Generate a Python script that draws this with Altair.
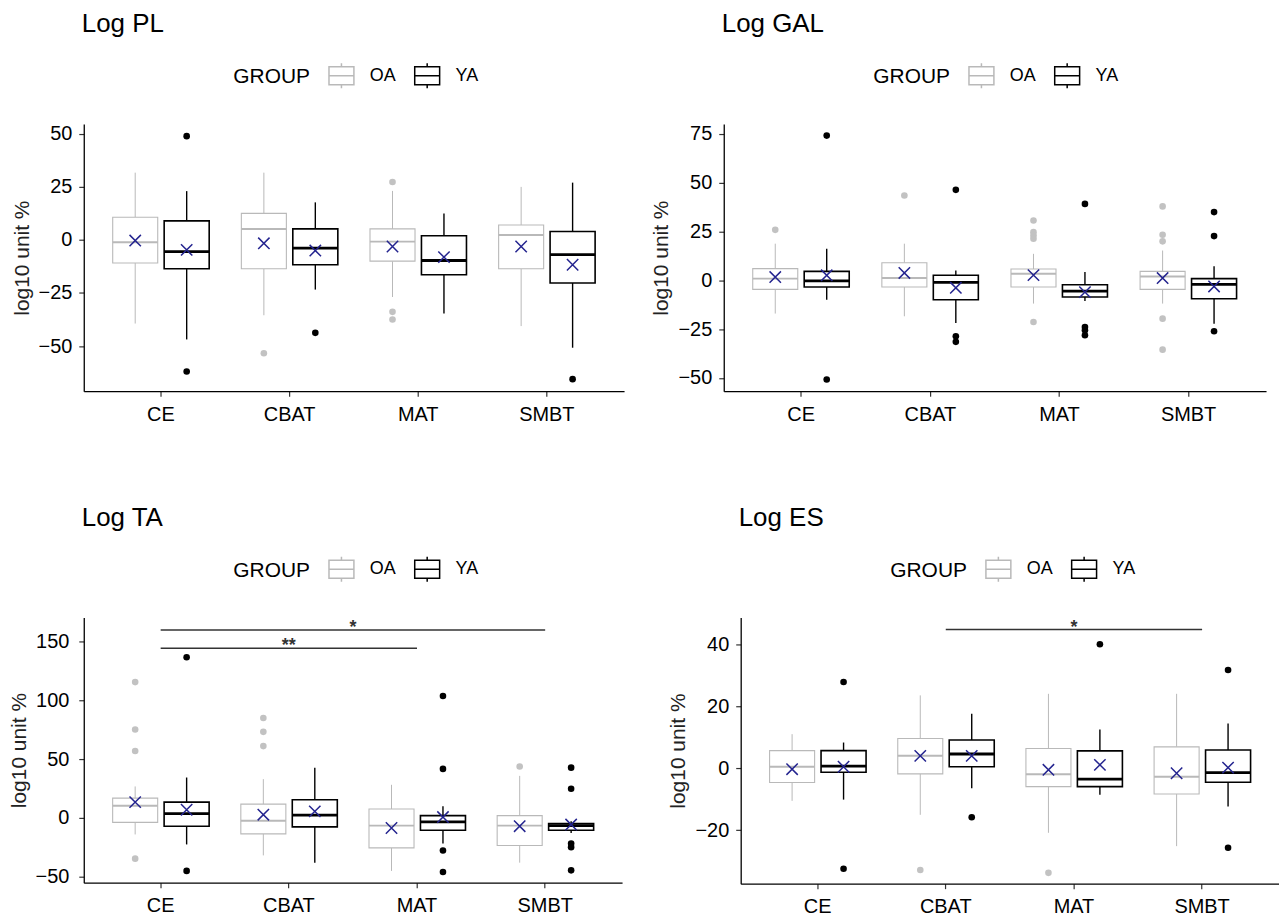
import altair as alt
import pandas as pd

FONT = "Liberation Sans"
CATS = ["CE", "CBAT", "MAT", "SMBT"]
GROUPS = ["OA", "YA"]
BOX_COLORS = ["#b9b9b9", "#000000"]
PT_COLORS = ["#c2c2c2", "#000000"]
MEAN_COLOR = "#24248f"

# ---------------- Log PL ----------------
PL_OA_LO = [-39.4, -35.5, -26.9, -40.6]
PL_OA_Q1 = [-10.9, -13.6, -10.0, -13.6]
PL_OA_MED = [-1.1, 5.2, -0.8, 2.3]
PL_OA_Q3 = [10.7, 12.5, 5.2, 7.0]
PL_OA_HI = [31.7, 31.7, 23.1, 25.0]
PL_OA_MEAN = [-0.3, -1.6, -3.1, -3.1]
PL_OA_OUT = [[], [-53.4], [27.3, -33.9, -37.5], []]
PL_YA_LO = [-46.9, -23.4, -34.7, -50.8]
PL_YA_Q1 = [-13.6, -11.7, -16.4, -20.3]
PL_YA_MED = [-5.5, -3.9, -9.7, -6.9]
PL_YA_Q3 = [9.0, 5.2, 2.0, 4.0]
PL_YA_HI = [23.0, 17.7, 12.5, 27.0]
PL_YA_MEAN = [-4.7, -5.0, -8.1, -11.7]
PL_YA_OUT = [[48.9, -62.0], [-43.8], [], [-65.6]]

# ---------------- Log GAL ----------------
GAL_OA_LO = [-17.0, -18.4, -11.9, -11.9]
GAL_OA_Q1 = [-4.6, -3.4, -3.4, -4.6]
GAL_OA_MED = [0.9, 1.2, 3.4, 2.0]
GAL_OA_Q3 = [6.0, 9.0, 5.8, 4.6]
GAL_OA_HI = [18.8, 18.8, 13.6, 15.3]
GAL_OA_MEAN = [1.7, 3.8, 2.7, 1.2]
GAL_OA_OUT = [[25.9], [43.5], [30.7, 24.7, 23.0, 21.3, -21.3], [37.9, 23.4, 20.0, -19.6, -35.5]]
GAL_YA_LO = [-9.9, -21.8, -10.6, -22.2]
GAL_YA_Q1 = [-3.4, -9.9, -8.5, -9.4]
GAL_YA_MED = [-0.3, -1.0, -5.5, -2.0]
GAL_YA_Q3 = [4.6, 2.6, -2.2, 0.9]
GAL_YA_HI = [16.2, 5.1, 4.3, 7.3]
GAL_YA_MEAN = [2.6, -3.8, -6.0, -3.1]
GAL_YA_OUT = [[74.2, -50.8], [46.4, -28.6, -31.5], [39.2, -23.9, -25.6, -28.1], [35.0, 22.7, -26.1]]

# ---------------- Log TA ----------------
TA_OA_LO = [-14.0, -31.8, -45.0, -38.0]
TA_OA_Q1 = [-3.7, -13.5, -25.4, -23.4]
TA_OA_MED = [10.4, -2.3, -6.5, -6.5]
TA_OA_Q3 = [16.9, 11.8, 7.6, 2.0]
TA_OA_HI = [26.8, 33.0, 28.2, 35.8]
TA_OA_MEAN = [13.5, 2.8, -8.5, -7.0]
TA_OA_OUT = [[115.5, 75.2, 56.9, -34.6], [85.0, 73.2, 61.1], [], [43.7]]
TA_YA_LO = [-22.5, -38.0, -21.7, -12.7]
TA_YA_Q1 = [-7.0, -7.6, -10.4, -10.4]
TA_YA_MED = [3.7, 2.5, -3.4, -6.5]
TA_YA_Q3 = [13.5, 15.5, 2.0, -4.8]
TA_YA_HI = [34.4, 42.8, 9.9, -2.8]
TA_YA_MEAN = [7.0, 5.6, 0.8, -5.6]
TA_YA_OUT = [[136.6, -45.0], [], [103.7, 41.7, -27.6, -45.9], [42.8, 24.8, -21.7, -24.8, -44.5]]
TA_BRACKETS = [("CE", "SMBT", 159.7, "*"), ("CE", "MAT", 144.3, "**")]

# ---------------- Log ES ----------------
ES_OA_LO = [-10.5, -15.0, -20.8, -25.1]
ES_OA_Q1 = [-4.6, -1.8, -5.9, -8.3]
ES_OA_MED = [0.5, 4.0, -1.9, -2.7]
ES_OA_Q3 = [5.7, 9.6, 6.4, 6.9]
ES_OA_HI = [11.0, 23.5, 24.0, 24.0]
ES_OA_MEAN = [-0.3, 4.0, -0.5, -1.6]
ES_OA_OUT = [[], [-32.8], [-33.7], []]
ES_YA_LO = [-10.1, -6.4, -8.5, -12.3]
ES_YA_Q1 = [-1.3, 0.5, -5.9, -4.5]
ES_YA_MED = [0.7, 4.6, -3.5, -1.4]
ES_YA_Q3 = [5.7, 9.1, 5.6, 5.9]
ES_YA_HI = [8.3, 17.6, 12.5, 14.4]
ES_YA_MEAN = [0.5, 4.0, 1.1, 0.2]
ES_YA_OUT = [[27.8, -32.4], [-15.8], [40.0], [31.7, -25.6]]
ES_BRACKETS = [("CBAT", "SMBT", 44.7, "*")]

BOX_PATH = "M-1,-0.72L1,-0.72L1,0.72L-1,0.72Z M-1,0L1,0 M0,-0.72L0,-1 M0,0.72L0,1"
X_PATH = "M-1,-1L1,1M-1,1L1,-1"


def make_panel(title, oa, ya, oa_out, ya_out, ydomain, yticks, width, height,
               brackets=None, ylabpad=7):
    keys = ["lo", "q1", "med", "q3", "hi", "mean"]
    rows = []
    for g, st in (("OA", oa), ("YA", ya)):
        for i, c in enumerate(CATS):
            r = {"cat": c, "group": g}
            for k, arr in zip(keys, st):
                r[k] = arr[i]
            rows.append(r)
    summ = pd.DataFrame(rows)
    orows = []
    for g, outs in (("OA", oa_out), ("YA", ya_out)):
        for i, c in enumerate(CATS):
            for v in outs[i]:
                orows.append({"cat": c, "group": g, "val": v})
    odf = pd.DataFrame(orows)

    xscale = alt.Scale(domain=CATS, paddingInner=0, paddingOuter=0.1)
    xaxis = alt.Axis(title=None, labelAngle=0, labelPadding=8, tickSize=5)
    X = alt.X("cat:N", scale=xscale, sort=CATS, axis=xaxis)
    XO = alt.XOffset("group:N", sort=GROUPS,
                     scale=alt.Scale(domain=GROUPS, paddingInner=0.125, paddingOuter=0.3125))
    yscale = alt.Scale(domain=ydomain, nice=False, zero=False)
    yaxis = alt.Axis(values=yticks, title="log10 unit %", labelPadding=ylabpad,
                     tickSize=5, titlePadding=6)

    def Y(f):
        return alt.Y(f, type="quantitative", scale=yscale, axis=yaxis)

    legend = alt.Legend(orient="none", legendX=150, legendY=-62, direction="horizontal",
                        title="GROUP", titleOrient="left", symbolType=BOX_PATH,
                        symbolSize=625, symbolStrokeWidth=1.5, symbolFillColor="white",
                        labelFontSize=18, titleFontSize=21, titleFontWeight="normal",
                        labelOffset=15, columnPadding=15, titlePadding=17,
                        titleColor="black", labelColor="black", titleBaseline="middle",
                        labelFont=FONT, titleFont=FONT)
    S = alt.Stroke("group:N", scale=alt.Scale(domain=GROUPS, range=BOX_COLORS), legend=legend)
    F = alt.Fill("group:N", scale=alt.Scale(domain=GROUPS, range=["white", "white"]), legend=legend)

    def SW(lo_w, hi_w):
        return alt.StrokeWidth("group:N", scale=alt.Scale(domain=GROUPS, range=[lo_w, hi_w]),
                               legend=None)

    base = alt.Chart(summ)
    w_lo = base.mark_rule().encode(x=X, xOffset=XO, y=Y("lo"), y2="q1", stroke=S, strokeWidth=SW(1.0, 1.4))
    w_hi = base.mark_rule().encode(x=X, xOffset=XO, y=Y("q3"), y2="hi", stroke=S, strokeWidth=SW(1.0, 1.4))
    box = base.mark_bar().encode(x=X, xOffset=XO, y=Y("q1"), y2="q3", stroke=S, fill=F,
                                 strokeWidth=SW(1.1, 1.6))
    med = base.mark_bar(fill="white").encode(x=X, xOffset=XO, y=Y("med"), y2="med", stroke=S,
                                             strokeWidth=SW(2.0, 2.8))
    pts = alt.Chart(odf).mark_circle(size=44, opacity=1).encode(
        x=X, xOffset=XO, y=Y("val"),
        color=alt.Color("group:N", scale=alt.Scale(domain=GROUPS, range=PT_COLORS), legend=None))
    mean = base.mark_point(shape=X_PATH, size=130, filled=False, stroke=MEAN_COLOR,
                           strokeWidth=1.5, opacity=1).encode(x=X, xOffset=XO, y=Y("mean"))
    main = alt.layer(w_lo, w_hi, box, med, pts, mean).resolve_scale(strokeWidth="independent")

    tparams = alt.TitleParams(text=title, anchor="start", frame="group", fontSize=26,
                              fontWeight="normal", color="black", font=FONT, offset=25, dx=-2)
    if brackets:
        bdf = pd.DataFrame([{"x1": CATS.index(a) + 1, "x2": CATS.index(b) + 1, "y": y, "label": lab}
                            for a, b, y, lab in brackets])
        xq = alt.Scale(domain=[0.4, 4.6], nice=False, zero=False)
        rule = alt.Chart(bdf).mark_rule(color="#333333", strokeWidth=1.5).encode(
            x=alt.X("x1:Q", scale=xq, axis=None), x2="x2:Q", y=Y("y"))
        txt = alt.Chart(bdf).transform_calculate(mid="(datum.x1 + datum.x2) / 2").mark_text(
            fontSize=18, fontWeight="bold", color="#333333", baseline="alphabetic", dy=3, font=FONT
        ).encode(x=alt.X("mid:Q", scale=xq, axis=None), y=Y("y"), text="label:N")
        panel = alt.layer(main, alt.layer(rule, txt)).resolve_scale(x="independent")
    else:
        panel = main
    return panel.properties(title=tparams, width=width, height=height)


tl = make_panel("Log PL",
                [PL_OA_LO, PL_OA_Q1, PL_OA_MED, PL_OA_Q3, PL_OA_HI, PL_OA_MEAN],
                [PL_YA_LO, PL_YA_Q1, PL_YA_MED, PL_YA_Q3, PL_YA_HI, PL_YA_MEAN],
                PL_OA_OUT, PL_YA_OUT, [-71.3, 54.6], [-50, -25, 0, 25, 50], 542, 268)
tr = make_panel("Log GAL",
                [GAL_OA_LO, GAL_OA_Q1, GAL_OA_MED, GAL_OA_Q3, GAL_OA_HI, GAL_OA_MEAN],
                [GAL_YA_LO, GAL_YA_Q1, GAL_YA_MED, GAL_YA_Q3, GAL_YA_HI, GAL_YA_MEAN],
                GAL_OA_OUT, GAL_YA_OUT, [-56.8, 80.1], [-50, -25, 0, 25, 50, 75], 544, 268)
bl = make_panel("Log TA",
                [TA_OA_LO, TA_OA_Q1, TA_OA_MED, TA_OA_Q3, TA_OA_HI, TA_OA_MEAN],
                [TA_YA_LO, TA_YA_Q1, TA_YA_MED, TA_YA_Q3, TA_YA_HI, TA_YA_MEAN],
                TA_OA_OUT, TA_YA_OUT, [-55.0, 170.4], [-50, 0, 50, 100, 150], 540, 266,
                brackets=TA_BRACKETS, ylabpad=10)
br = make_panel("Log ES",
                [ES_OA_LO, ES_OA_Q1, ES_OA_MED, ES_OA_Q3, ES_OA_HI, ES_OA_MEAN],
                [ES_YA_LO, ES_YA_Q1, ES_YA_MED, ES_YA_Q3, ES_YA_HI, ES_YA_MEAN],
                ES_OA_OUT, ES_YA_OUT, [-37.2, 48.6], [-20, 0, 20, 40], 540, 267,
                brackets=ES_BRACKETS)

IND = dict(stroke="independent", fill="independent", color="independent", strokeWidth="independent")
row1 = alt.hconcat(tl, tr, spacing=27).resolve_scale(**IND).resolve_legend(stroke="independent", fill="independent")
row2 = alt.hconcat(bl, br, spacing=46).resolve_scale(**IND).resolve_legend(stroke="independent", fill="independent")
chart = alt.vconcat(row1, row2, spacing=81).resolve_scale(**IND).resolve_legend(
    stroke="independent", fill="independent"
).properties(
    padding={"left": 0, "top": 2, "right": 0, "bottom": 0}
).configure_view(strokeWidth=0).configure_axis(
    domainColor="black", domainWidth=1.3, tickColor="#333333", tickWidth=1.2,
    labelFontSize=20, labelColor="black", titleFontSize=21, titleFontWeight="normal",
    titleColor="#222222", grid=False, labelFont=FONT, titleFont=FONT
).configure_title(font=FONT)

chart.save("out.html", embed_options={"renderer": "svg", "actions": False})
